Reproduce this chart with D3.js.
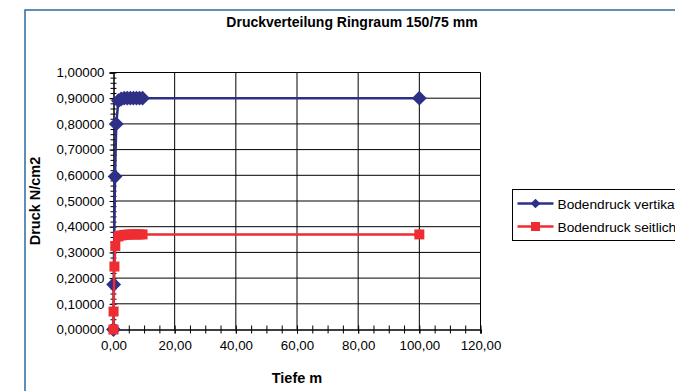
<!DOCTYPE html>
<html>
<head>
<meta charset="utf-8">
<script src="https://cdn.jsdelivr.net/npm/d3@7"></script>
<style>
  body { margin: 0; background: #fff; }
  svg { display: block; }
  svg text { font-family: "Liberation Sans", Arial, sans-serif; }
</style>
</head>
<body>
<div id="chart"></div>
<script>
// Tiefe (m) and pressure values
const depthVert = [0, 0.05, 0.5, 0.9, 1.6, 2.5, 3.5, 4.5, 5.5, 6.5, 7.5, 8.5, 9.5, 100];
const druckVert = [0, 0.175, 0.595, 0.8, 0.89, 0.897, 0.9, 0.9, 0.9, 0.9, 0.9, 0.9, 0.9, 0.9];
const depthSeit = [0, 0.02, 0.3, 0.6, 1.6, 2.5, 3.5, 4.5, 5.5, 6.5, 7.5, 8.5, 9.5, 100];
const druckSeit = [0, 0.07, 0.245, 0.325, 0.362, 0.366, 0.368, 0.369, 0.37, 0.37, 0.37, 0.37, 0.37, 0.37];
const seriesNames = ["Bodendruck vertikal", "Bodendruck seitlich"];
const xTicks = [0, 20, 40, 60, 80, 100, 120];
const yTicks = [0, 0.1, 0.2, 0.3, 0.4, 0.5, 0.6, 0.7, 0.8, 0.9, 1.0];

const W = 675, H = 391;
const blue = "#2e3087", red = "#ee2d33";
const fmt = (v, d) => v.toFixed(d).replace(".", ",");

const svg = d3.select("#chart").append("svg")
    .attr("width", W).attr("height", H);

// outer frame (only left & top visible)
svg.append("rect")
    .attr("x", 25).attr("y", 10)
    .attr("width", 700).attr("height", 420)
    .attr("fill", "none").attr("stroke", "#2b6a9e").attr("stroke-width", 1.5);

svg.append("text")
    .attr("x", 352).attr("y", 27)
    .attr("text-anchor", "middle")
    .style("font-size", "14px").style("font-weight", "bold")
    .text("Druckverteilung Ringraum 150/75 mm");

const x = d3.scaleLinear().domain([0, 120]).range([113.5, 480.5]);
const y = d3.scaleLinear().domain([0, 1]).range([329.5, 72.5]);

// grid
svg.append("g").selectAll("line").data(yTicks.slice(1)).enter().append("line")
    .attr("x1", x(0)).attr("x2", x(120))
    .attr("y1", d => y(d)).attr("y2", d => y(d))
    .attr("stroke", "#000").attr("stroke-width", 1);
svg.append("g").selectAll("line").data(xTicks.slice(1)).enter().append("line")
    .attr("x1", d => x(d)).attr("x2", d => x(d))
    .attr("y1", y(0)).attr("y2", y(1))
    .attr("stroke", "#000").attr("stroke-width", 1);

// axes
const yAxis = svg.append("g")
    .attr("transform", `translate(${x(0)},0)`)
    .call(d3.axisLeft(y).tickValues(yTicks).tickSize(4).tickFormat(d => fmt(d, 5)));
svg.append("g")
    .attr("transform", `translate(${x(0)},0)`)
    .call(d3.axisLeft(y).ticks(50).tickSize(3).tickFormat(""))
    .call(g => g.select(".domain").remove());
svg.append("g")
    .attr("transform", `translate(${x(0)},0)`)
    .call(d3.axisRight(y).ticks(50).tickSize(3).tickFormat(""))
    .call(g => g.select(".domain").remove());

const xAxis = svg.append("g")
    .attr("transform", `translate(0,${y(0)})`)
    .call(d3.axisBottom(x).tickValues(xTicks).tickSize(4).tickFormat(d => fmt(d, 2)));
svg.append("g")
    .attr("transform", `translate(0,${y(0)})`)
    .call(d3.axisBottom(x).ticks(30).tickSize(4).tickFormat(""))
    .call(g => g.select(".domain").remove());
svg.append("g")
    .attr("transform", `translate(0,${y(0)})`)
    .call(d3.axisTop(x).ticks(30).tickSize(4).tickFormat(""))
    .call(g => g.select(".domain").remove());

svg.selectAll(".domain").attr("stroke", "#000").attr("stroke-width", 1.5);
svg.selectAll(".tick line").attr("stroke", "#000");
yAxis.selectAll("text").style("font-size", "13.3px").style("font-family", "'Liberation Sans', Arial, sans-serif")
    .attr("fill", "#000").attr("dx", "-2");
xAxis.selectAll("text").style("font-size", "13.3px").style("font-family", "'Liberation Sans', Arial, sans-serif")
    .attr("fill", "#000").attr("dy", "1.05em");

svg.append("text")
    .attr("transform", `translate(40,${y(0.5)}) rotate(-90)`)
    .attr("text-anchor", "middle")
    .style("font-size", "14.5px").style("font-weight", "bold")
    .text("Druck N/cm2");
svg.append("text")
    .attr("x", 297).attr("y", 383)
    .attr("text-anchor", "middle")
    .style("font-size", "14.5px").style("font-weight", "bold")
    .text("Tiefe m");

const line = d3.line().x(d => x(d[0])).y(d => y(d[1]));
const vert = depthVert.map((d, i) => [d, druckVert[i]]);
const seit = depthSeit.map((d, i) => [d, druckSeit[i]]);
const diamond = d3.symbol().type(d3.symbolDiamond2).size(140);

svg.append("path").datum(vert).attr("d", line)
    .attr("fill", "none").attr("stroke", blue).attr("stroke-width", 2.5);
svg.append("g").selectAll("path").data(vert).enter().append("path")
    .attr("d", diamond)
    .attr("transform", d => `translate(${x(d[0])},${y(d[1])})`)
    .attr("fill", blue);

svg.append("path").datum(seit).attr("d", line)
    .attr("fill", "none").attr("stroke", red).attr("stroke-width", 2.5);
svg.append("g").selectAll("rect").data(seit).enter().append("rect")
    .attr("x", d => x(d[0]) - 5).attr("y", d => y(d[1]) - 5)
    .attr("width", 10).attr("height", 10)
    .attr("fill", red);

// legend (box runs past the right edge, as in the original)
const lg = svg.append("g").attr("transform", "translate(512.5,189.5)");
lg.append("rect").attr("width", 200).attr("height", 51)
    .attr("fill", "#fff").attr("stroke", "#000").attr("stroke-width", 1);
seriesNames.forEach((name, i) => {
    const ly = 14 + i * 23;
    const col = i === 0 ? blue : red;
    lg.append("line").attr("x1", 5).attr("x2", 41).attr("y1", ly).attr("y2", ly)
        .attr("stroke", col).attr("stroke-width", 2.5);
    if (i === 0) {
        lg.append("path").attr("d", d3.symbol().type(d3.symbolDiamond2).size(60))
            .attr("transform", `translate(23,${ly})`).attr("fill", col);
    } else {
        lg.append("rect").attr("x", 18.5).attr("y", ly - 4.5).attr("width", 9).attr("height", 9)
            .attr("fill", col);
    }
    lg.append("text").attr("x", 45).attr("y", ly + 5)
        .style("font-size", "13.7px").text(name);
});
</script>
</body>
</html>
